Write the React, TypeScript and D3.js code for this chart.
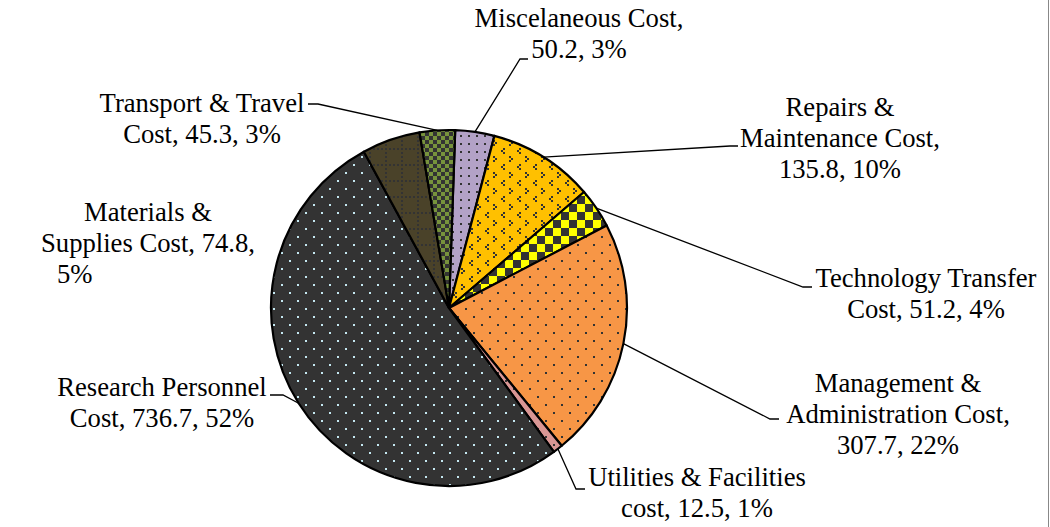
import React, { useEffect, useRef } from "react";
import * as d3 from "d3";

// slice order as drawn clockwise from 12 o'clock
const categories = [
  "Miscelaneous Cost",
  "Repairs & Maintenance Cost",
  "Technology Transfer Cost",
  "Management & Administration Cost",
  "Utilities & Facilities cost",
  "Research Personnel Cost",
  "Materials & Supplies Cost",
  "Transport & Travel Cost",
];
const values = [50.2, 135.8, 51.2, 307.7, 12.5, 736.7, 74.8, 45.3];
const percents = [3, 10, 4, 22, 1, 52, 5, 3];

// how each label wraps (text as shown)
const labelLines = [
  ["Miscelaneous Cost,", "50.2, 3%"],
  ["Repairs &", "Maintenance Cost,", "135.8, 10%"],
  ["Technology Transfer", "Cost, 51.2, 4%"],
  ["Management &", "Administration Cost,", "307.7, 22%"],
  ["Utilities & Facilities", "cost, 12.5, 1%"],
  ["Research Personnel", "Cost, 736.7, 52%"],
  ["Materials &", "Supplies Cost, 74.8,", "5%"],
  ["Transport & Travel", "Cost, 45.3, 3%"],
];

const patternIds = ["pMisc", "pRepair", "pTech", "pMgmt", "pUtil", "pResearch", "pMat", "pTrans"];

// label layout: centre x, first baseline, leader elbow + end (null = no leader)
const labelLayout = [
  { x: 579, y: 27, elbow: [520, 59], end: [528, 59] },
  { x: 840, y: 116, elbow: [730, 146], end: [738, 146] },
  { x: 926, y: 287, elbow: [803, 287], end: [812, 287] },
  { x: 898, y: 392, elbow: [770, 419], end: [779, 419] },
  { x: 697, y: 486, elbow: [576, 489], end: [585, 489] },
  { x: 162, y: 396, elbow: [283, 395], end: [270, 395] },
  { x: 148, y: 221, elbow: null, end: null },
  { x: 202, y: 112, elbow: [318, 104], end: [308, 104] },
];

const width = 1050;
const height = 527;
const cx = 449;
const cy = 308;
const radius = 178;
const lineGap = 31;

export default function App() {
  const ref = useRef<SVGSVGElement>(null);

  useEffect(() => {
    const svg = d3.select(ref.current);
    svg.selectAll("*").remove();

    const defs = svg.append("defs");

    const makePattern = (id: string, size: number, bg: string) => {
      const p = defs
        .append("pattern")
        .attr("id", id)
        .attr("patternUnits", "userSpaceOnUse")
        .attr("width", size)
        .attr("height", size);
      p.append("rect").attr("width", size).attr("height", size).attr("fill", bg);
      return p;
    };
    const dots = (p: any, pts: number[][], color: string, s = 2) => {
      pts.forEach(([x, y]) =>
        p.append("rect").attr("x", x).attr("y", y).attr("width", s).attr("height", s).attr("fill", color)
      );
    };

    // scattered dots
    dots(makePattern("pResearch", 16, "#333333"), [[0, 0], [8, 8]], "#c4e8f1");
    dots(makePattern("pMgmt", 16, "#f79646"), [[0, 0], [8, 8]], "#333333");
    dots(makePattern("pUtil", 16, "#d99694"), [[0, 0], [8, 8]], "#333333");
    dots(makePattern("pMisc", 8, "#b3a2c7"), [[3, 3]], "#333333");
    // divots
    dots(
      makePattern("pRepair", 16, "#ffc000"),
      [[6, 0], [4, 2], [6, 4], [12, 8], [14, 10], [12, 12]],
      "#333333"
    );
    // checkers
    dots(makePattern("pTech", 16, "#ffff00"), [[0, 0], [8, 8]], "#333333", 8);
    dots(makePattern("pTrans", 8, "#77933c"), [[0, 0], [4, 4]], "#333333", 4);
    // dotted grid
    dots(
      makePattern("pMat", 16, "#4a4229"),
      [[0, 0], [4, 0], [8, 0], [12, 0], [0, 4], [0, 8], [0, 12]],
      "#333333"
    );

    const startAngle = (2 * Math.PI) / 180;
    const pie = d3
      .pie<number>()
      .sort(null)
      .value((d) => d)
      .startAngle(startAngle)
      .endAngle(startAngle + 2 * Math.PI);
    const arcs = pie(values);

    const arc = d3.arc<d3.PieArcDatum<number>>().innerRadius(0).outerRadius(radius);
    const edge = d3.arc<d3.PieArcDatum<number>>().innerRadius(radius).outerRadius(radius);

    const g = svg.append("g").attr("transform", `translate(${cx}, ${cy})`);

    g.selectAll(".slice")
      .data(arcs)
      .join("path")
      .attr("class", "slice")
      .attr("d", arc)
      .attr("fill", (d, i) => `url(#${patternIds[i]})`)
      .attr("stroke", "#000")
      .attr("stroke-width", 2.2)
      .attr("stroke-linejoin", "round");

    // leader lines
    arcs.forEach((d, i) => {
      const lay = labelLayout[i];
      if (!lay.elbow) return;
      const [ex, ey] = edge.centroid(d);
      const pts = [
        [cx + ex, cy + ey],
        lay.elbow,
        lay.end,
      ] as [number, number][];
      svg
        .append("path")
        .attr("d", d3.line()(pts))
        .attr("fill", "none")
        .attr("stroke", "#000")
        .attr("stroke-width", 1.3);
    });

    // labels
    labelLines.forEach((lines, i) => {
      const lay = labelLayout[i];
      lines.forEach((line, j) => {
        const t = svg
          .append("text")
          .attr("x", lay.x)
          .attr("y", lay.y + j * lineGap)
          .attr("text-anchor", "middle")
          .style("font-family", "'Liberation Serif', 'Times New Roman', serif")
          .style("font-size", "26.67px")
          .attr("fill", "#000")
          .text(line);
        // the last line of the materials label sits left
        if (i === 6 && j === 2) t.attr("x", 57).attr("text-anchor", "start");
      });
    });

    // right border of the chart area
    svg
      .append("line")
      .attr("x1", width - 1.5)
      .attr("x2", width - 1.5)
      .attr("y1", 0)
      .attr("y2", height)
      .attr("stroke", "#888")
      .attr("stroke-width", 1);
  }, []);

  return (
    <svg
      ref={ref}
      width={width}
      height={height}
      style={{ position: "absolute", left: 0, top: 0, background: "#fff" }}
    />
  );
}
